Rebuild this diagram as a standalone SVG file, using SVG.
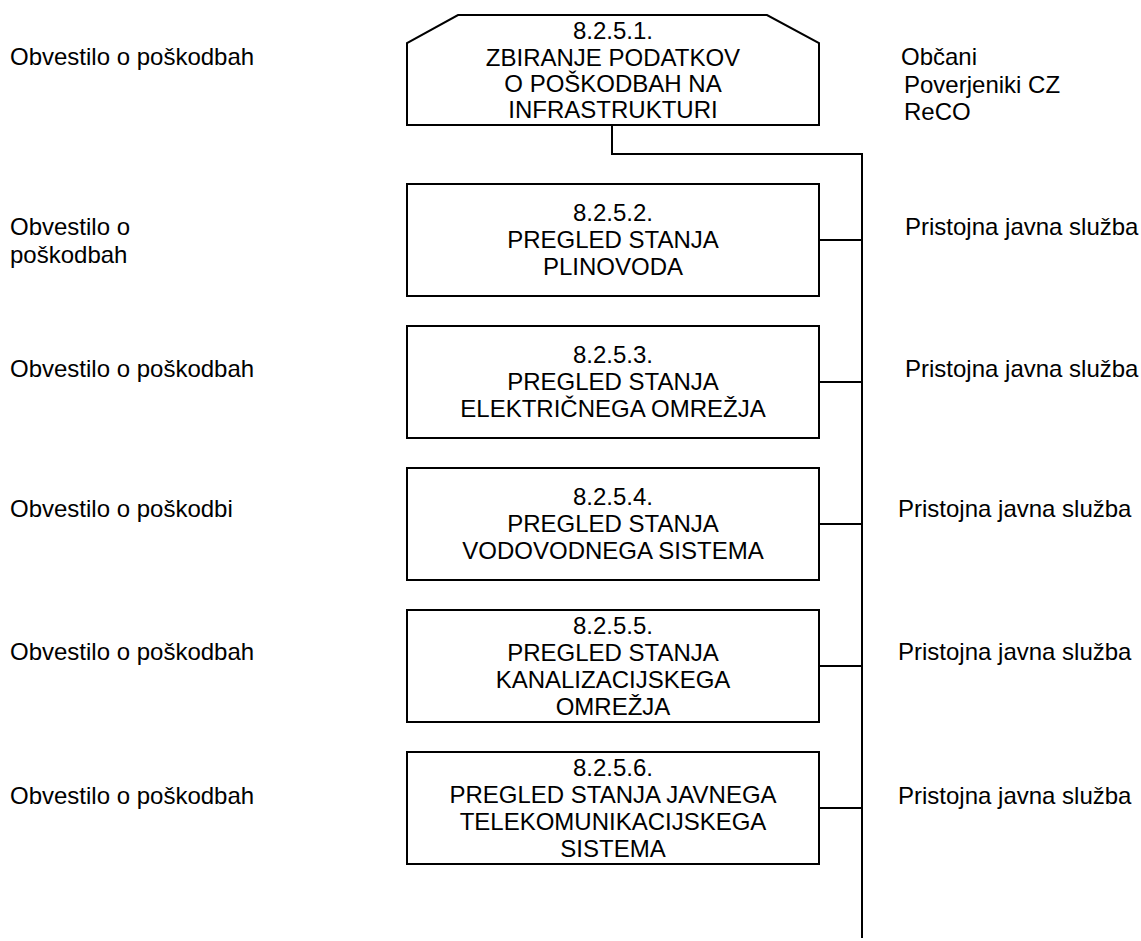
<svg xmlns="http://www.w3.org/2000/svg" width="1141" height="941" viewBox="0 0 1141 941">
<style>
.box{fill:#fff;stroke:#000;stroke-width:2}
.con{fill:none;stroke:#000;stroke-width:2}
text{font-family:"Liberation Sans",Arial,sans-serif;font-size:24px;fill:#000}
.c{text-anchor:middle}
</style>
<rect width="1141" height="941" fill="#fff"/>
<g id="connectors">
<polyline class="con" points="612,125 612,154 862,154 862,938"/>
<line class="con" x1="819" y1="240" x2="862" y2="240"/>
<line class="con" x1="819" y1="382" x2="862" y2="382"/>
<line class="con" x1="819" y1="524" x2="862" y2="524"/>
<line class="con" x1="819" y1="666" x2="862" y2="666"/>
<line class="con" x1="819" y1="808" x2="862" y2="808"/>
</g>
<g id="n1">
<polygon class="box" points="458,15 767,15 819,43 819,125 407,125 407,43"/>
<text class="c" x="613" y="39">8.2.5.1.</text>
<text class="c" x="613" y="66">ZBIRANJE PODATKOV</text>
<text class="c" x="613" y="92">O POŠKODBAH NA</text>
<text class="c" x="613" y="118">INFRASTRUKTURI</text>
</g>
<g id="n2">
<rect class="box" x="407" y="184" width="412" height="112"/>
<text class="c" x="613" y="221">8.2.5.2.</text>
<text class="c" x="613" y="248">PREGLED STANJA</text>
<text class="c" x="613" y="275">PLINOVODA</text>
</g>
<g id="n3">
<rect class="box" x="407" y="326" width="412" height="112"/>
<text class="c" x="613" y="363">8.2.5.3.</text>
<text class="c" x="613" y="390">PREGLED STANJA</text>
<text class="c" x="613" y="417">ELEKTRIČNEGA OMREŽJA</text>
</g>
<g id="n4">
<rect class="box" x="407" y="468" width="412" height="112"/>
<text class="c" x="613" y="505">8.2.5.4.</text>
<text class="c" x="613" y="532">PREGLED STANJA</text>
<text class="c" x="613" y="559">VODOVODNEGA SISTEMA</text>
</g>
<g id="n5">
<rect class="box" x="407" y="610" width="412" height="112"/>
<text class="c" x="613" y="634">8.2.5.5.</text>
<text class="c" x="613" y="661">PREGLED STANJA</text>
<text class="c" x="613" y="688">KANALIZACIJSKEGA</text>
<text class="c" x="613" y="715">OMREŽJA</text>
</g>
<g id="n6">
<rect class="box" x="407" y="752" width="412" height="112"/>
<text class="c" x="613" y="776">8.2.5.6.</text>
<text class="c" x="613" y="803">PREGLED STANJA JAVNEGA</text>
<text class="c" x="613" y="830">TELEKOMUNIKACIJSKEGA</text>
<text class="c" x="613" y="857">SISTEMA</text>
</g>
<g id="labels">
<text x="10" y="65">Obvestilo o poškodbah</text>
<text x="901" y="65">Občani</text>
<text x="904" y="93">Poverjeniki CZ</text>
<text x="904" y="120">ReCO</text>
<text x="10" y="235">Obvestilo o</text>
<text x="10" y="263">poškodbah</text>
<text x="905" y="235">Pristojna javna služba</text>
<text x="10" y="377">Obvestilo o poškodbah</text>
<text x="905" y="377">Pristojna javna služba</text>
<text x="10" y="517">Obvestilo o poškodbi</text>
<text x="898" y="517">Pristojna javna služba</text>
<text x="10" y="660">Obvestilo o poškodbah</text>
<text x="898" y="660">Pristojna javna služba</text>
<text x="10" y="804">Obvestilo o poškodbah</text>
<text x="898" y="804">Pristojna javna služba</text>
</g>
</svg>
